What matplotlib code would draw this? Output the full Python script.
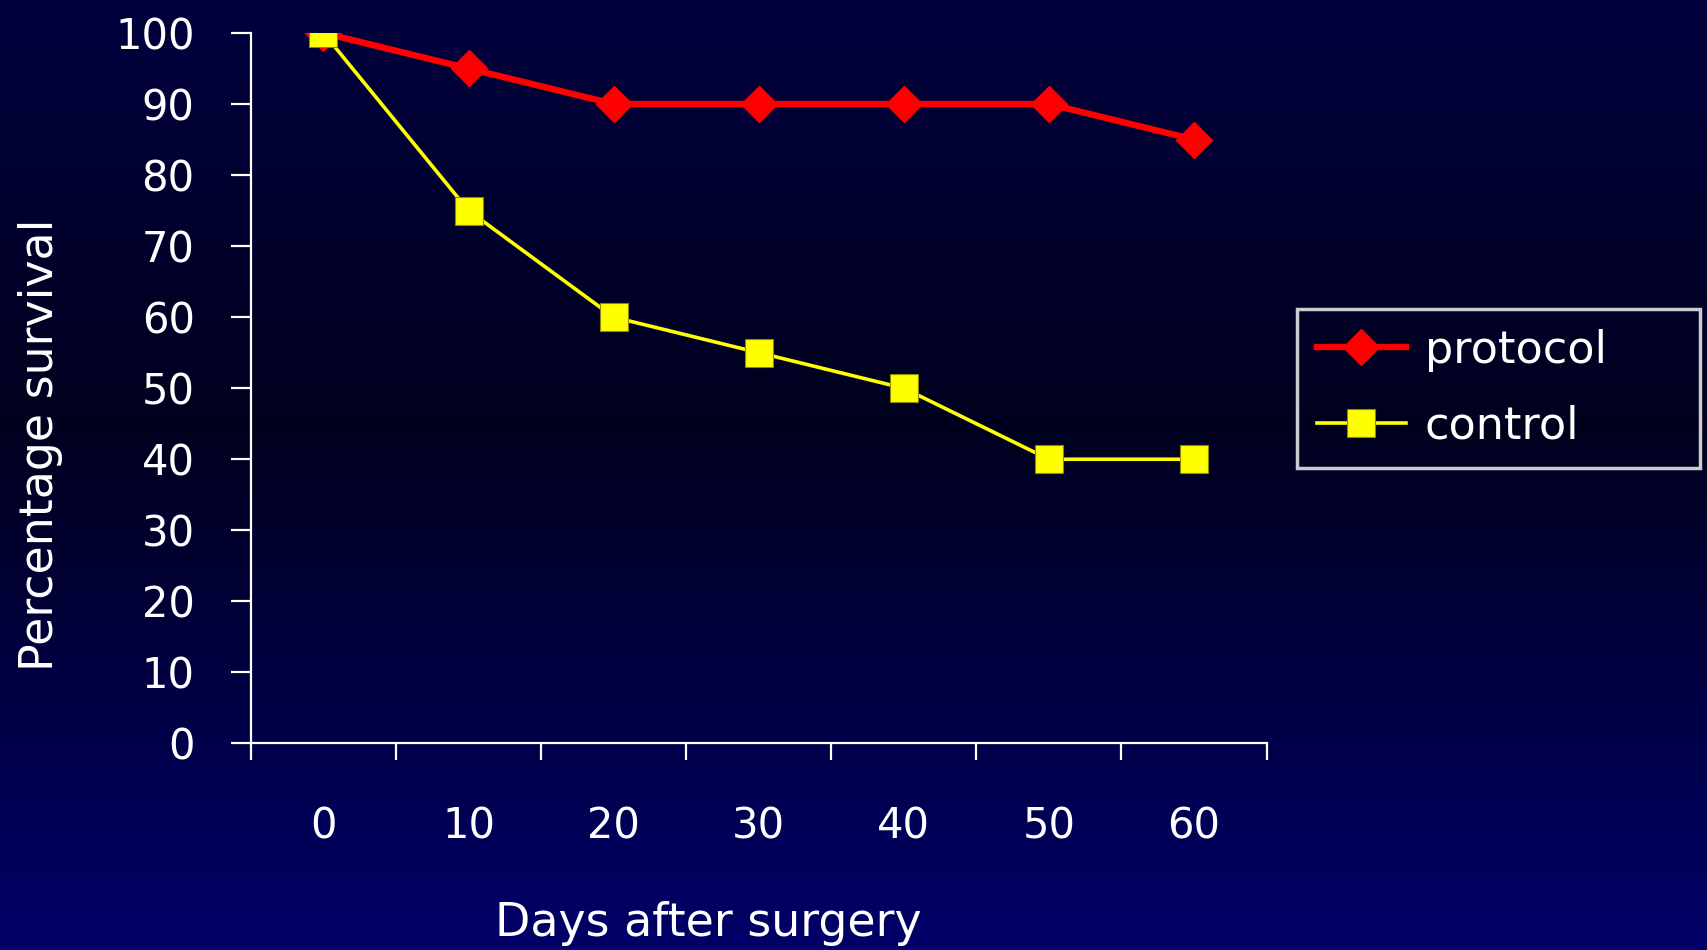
import numpy as np
import matplotlib.pyplot as plt
from matplotlib.colors import LinearSegmentedColormap

# survival data, one value per time point
days = ["0", "10", "20", "30", "40", "50", "60"]
protocol = [100, 95, 90, 90, 90, 90, 85]
control = [100, 75, 60, 55, 50, 40, 40]
yticks = [0, 10, 20, 30, 40, 50, 60, 70, 80, 90, 100]

plt.rcParams['font.family'] = ['DejaVu Sans']
fs = 30

fig = plt.figure(figsize=(17.07, 9.5), dpi=100)

# navy background gradient, black band across the upper middle
bg = fig.add_axes([0, 0, 1, 1], zorder=-10)
cmap = LinearSegmentedColormap.from_list(
    "bg", [(0.0, "#00003e"), (0.45, "#00001e"), (1.0, "#000068")])
grad = np.linspace(0, 1, 512).reshape(-1, 1)
bg.imshow(grad, aspect="auto", cmap=cmap, extent=[0, 1, 0, 1])
bg.axis("off")

ax = fig.add_axes([0.147, 0.2174, 0.595, 0.7479])
ax.set_facecolor("none")

x = np.arange(len(days))
ax.plot(x, protocol, color="#ff0000", lw=4.6, marker="D", ms=18,
        mec="#ff0000", label="protocol", zorder=3)
ax.plot(x, control, color="#ffff00", lw=2.6, marker="s", ms=19.5,
        mec="#8a8a00", mew=0.8, label="control", zorder=4)

ax.set_xlim(-0.5, len(days) - 0.5)
ax.set_ylim(0, 100)

for side in ["top", "right"]:
    ax.spines[side].set_visible(False)
for side in ["left", "bottom"]:
    ax.spines[side].set_color("white")
    ax.spines[side].set_linewidth(1.6)

ax.set_yticks(yticks)
ax.set_yticklabels([str(v) for v in yticks])
ax.tick_params(axis="y", direction="out", length=14.5, width=1.6,
               color="white", labelcolor="white", labelsize=fs, pad=26)

# category labels sit between the tick marks
ax.set_xticks(x)
ax.set_xticklabels(days)
ax.set_xticks(np.arange(len(days) + 1) - 0.5, minor=True)
ax.tick_params(axis="x", which="major", length=0, labelcolor="white",
               labelsize=fs, pad=44.5)
ax.tick_params(axis="x", which="minor", direction="out", length=12,
               width=1.6, color="white")

fig.text(0.415, 0.028, "Days after surgery", color="white", fontsize=33,
         ha="center", va="center")
fig.text(0.024, 0.532, "Percentage survival", color="white", fontsize=33,
         ha="center", va="center", rotation=90)

# legend box stretched to a fixed width on the right
lx0, ly1 = 1297 / 1707, 1 - 309 / 950
lw, lh = 403 / 1707, 155 / 950
leg = ax.legend(loc="upper left", bbox_to_anchor=(lx0, ly1 - lh, lw, lh),
                bbox_transform=fig.transFigure, mode="expand", frameon=True,
                fancybox=False, fontsize=32, handlelength=2.0,
                handletextpad=0.42, borderpad=0.45, labelspacing=0.74,
                borderaxespad=0)
frame = leg.get_frame()
frame.set_facecolor("none")
frame.set_edgecolor("white")
frame.set_linewidth(2.5)
for t in leg.get_texts():
    t.set_color("white")

fig.savefig("out.png", dpi=100)
